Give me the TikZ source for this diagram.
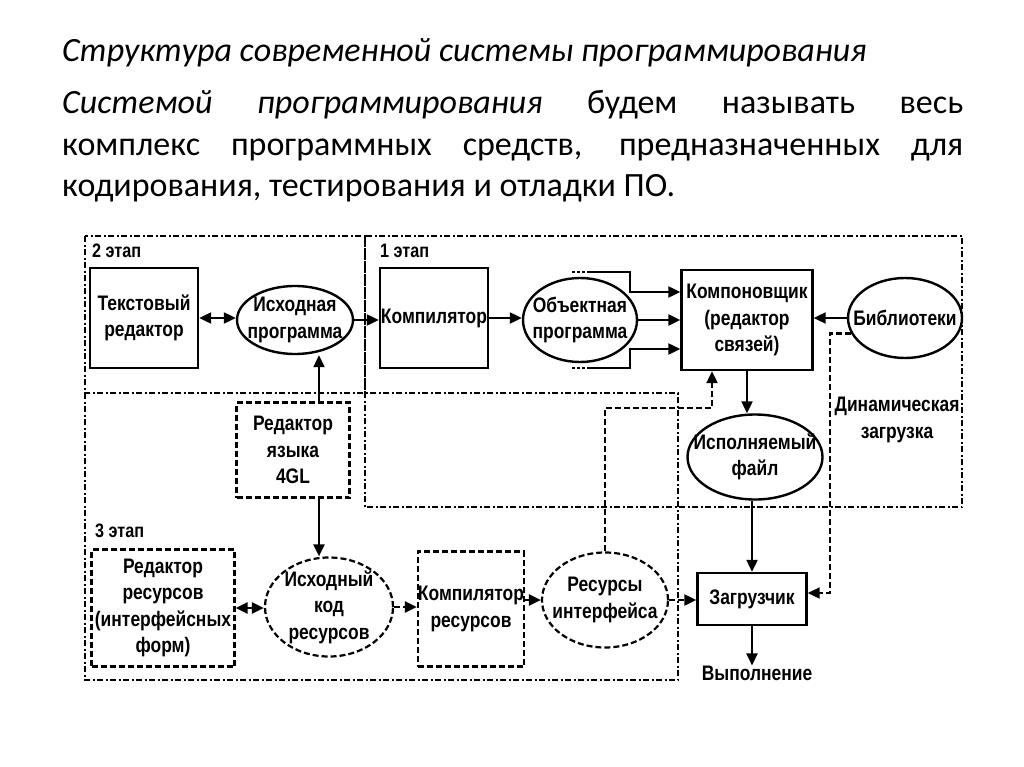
\documentclass[tikz,border=0pt]{standalone}
\usepackage{fontspec}
\setmainfont{Carlito}
\newfontfamily\dfont[FakeStretch=0.83,UprightFont=* Bold]{Liberation Sans}
\usetikzlibrary{shapes.geometric,arrows.meta}
\begin{document}
\begin{tikzpicture}[x=1pt,y=-1pt,
  >={Triangle[length=12pt,width=11pt]},
  dfnt/.style={font=\dfont\fontsize{21}{26.5}\selectfont},
  box/.style={draw, line width=2.4pt, inner sep=0pt, dfnt, align=center},
  dbox/.style={box, line width=2.2pt, dash pattern=on 6pt off 3pt},
  ell/.style={ellipse, draw, line width=2.4pt, inner sep=0pt},
  dell/.style={ell, line width=2.2pt, dash pattern=on 6pt off 3pt},
  lbl/.style={dfnt, align=center, inner sep=0pt},
  con/.style={line width=2.2pt},
  dcon/.style={line width=2.2pt, dash pattern=on 6pt off 3pt},
  dots/.style={line width=2.2pt, dash pattern=on 2.5pt off 2.5pt},
  region/.style={line width=2pt, dash pattern=on 6pt off 2.5pt on 2pt off 2.5pt},
  stage/.style={font=\dfont\fontsize{19.5}{22}\selectfont, anchor=base west, inner sep=0pt},
  hdr/.style={anchor=base west, inner sep=0pt, font=\fontsize{34}{40}\selectfont}
]
\useasboundingbox (0,0) rectangle (1024,767);

% header text
\node[hdr, font=\fontsize{34}{40}\selectfont\itshape] (title) at (62,62) {Структура современной системы программирования};
\node[hdr] (p1) at (62,114) {\makebox[901pt][s]{\textit{Системой программирования} будем называть весь}};
\node[hdr] (p2) at (62,156) {\makebox[901pt][s]{комплекс программных средств, предназначенных для}};
\node[hdr] (p3) at (62,197) {кодирования, тестирования и отладки ПО.};

% stage regions
\draw[region] (85,236) rectangle (365,393);
\draw[region] (365,236) rectangle (962,507);
\draw[region] (85,393) rectangle (678,680);
\node[stage] (s2) at (92,258) {2 этап};
\node[stage] (s1) at (380,258) {1 этап};
\node[stage] (s3) at (95,537) {3 этап};

% nodes
\node[box, minimum width=108pt, minimum height=100pt] (ted) at (144,318) {Текстовый\\редактор};
\node[ell, minimum width=116pt, minimum height=68pt, label={[lbl]center:Исходная\\программа}] (isp) at (295,320) {};
\node[box, minimum width=108pt, minimum height=100pt] (comp) at (434,318) {Компилятор};
\node[ell, minimum width=114pt, minimum height=84pt, label={[lbl]center:Объектная\\программа}] (obj) at (580,320) {};
\node[box, minimum width=131pt, minimum height=100pt] (link) at (747,320) {Компоновщик\\(редактор\\связей)};
\node[ell, minimum width=114pt, minimum height=80pt, label={[lbl]center:Библиотеки}] (lib) at (905,318) {};
\node[ell, minimum width=135pt, minimum height=85pt, label={[lbl]center:Исполняемый\\файл}] (exe) at (755,457) {};
\node[box, minimum width=109pt, minimum height=52pt] (load) at (752,599) {Загрузчик};
\node[lbl] (run) at (757,673) {Выполнение};
\node[lbl] (dyn) at (897,420) {Динамическая\\загрузка};
\node[dbox, minimum width=113pt, minimum height=95pt] (g4) at (293,450) {Редактор\\языка\\4GL};
\node[dbox, minimum width=143pt, minimum height=117pt] (rred) at (163,608) {Редактор\\ресурсов\\(интерфейсных\\форм)};
\node[dell, minimum width=128pt, minimum height=99pt, label={[lbl]center:Исходный\\код\\ресурсов}] (rsrc) at (329,607) {};
\node[dbox, minimum width=106pt, minimum height=115pt] (rcomp) at (471,609) {Компилятор\\ресурсов};
\node[dell, minimum width=126pt, minimum height=95pt, label={[lbl]center:Ресурсы\\интерфейса}] (rint) at (605,600) {};

% helper coordinates
\coordinate (t0) at (572,272); \coordinate (t1) at (590,272);
\coordinate (t2) at (630,272); \coordinate (t3) at (630,292);
\coordinate (b0) at (572,368); \coordinate (b1) at (590,368);
\coordinate (b2) at (630,368); \coordinate (b3) at (630,349);
\coordinate (c4) at (319,0);
\coordinate (r1) at (603,408); \coordinate (r2) at (712,408);
\coordinate (d1) at (830,333); \coordinate (d2) at (830,593);

% stage 2 / 1 connectors
\draw[con, <->] (ted.east) -- (ted.east -| isp.west);
\draw[con, ->] (isp.east) -- (isp.east -| comp.west);
\draw[con, ->] (comp.east) -- (comp.east -| obj.west);
\draw[con, ->] (obj.east) -- (obj.east -| link.west);
\draw[dots] (t0) -- (t1);
\draw[con, ->] (t1) -- (t2) -- (t3) -- (t3 -| link.west);
\draw[dots] (b0) -- (b1);
\draw[con, ->] (b1) -- (b2) -- (b3) -- (b3 -| link.west);
\draw[con, ->] (lib.west) -- (lib.west -| link.east);
\draw[con, ->] (link.south) -- (link.south |- exe.north);
\draw[con, ->] (load.north |- exe.south) -- (load.north);
\draw[con, ->] (load.south) -- (load.south |- run.north);
\draw[con, ->] (g4.north -| c4) -- (isp.south -| c4);
\draw[con, ->] (g4.south -| c4) -- (rsrc.north -| c4);

% stage 3 connectors
\draw[dcon, <->] (rred.east) -- (rred.east -| rsrc.west);
\draw[dcon, ->] (rsrc.east) -- (rsrc.east -| rcomp.west);
\draw[con, ->] (rint.west -| rcomp.east) -- (rint.west);
\draw[dcon, ->] (rint.east) -- (rint.east -| load.west);
\draw[dcon, ->] (rint.north) -- (rint.north |- r1) -- (r2) -- (r2 |- link.south);
\draw[dcon, ->] (lib.196) -- (lib.196 -| d1) -- (d2) -- (d2 -| load.east);
\end{tikzpicture}
\end{document}
